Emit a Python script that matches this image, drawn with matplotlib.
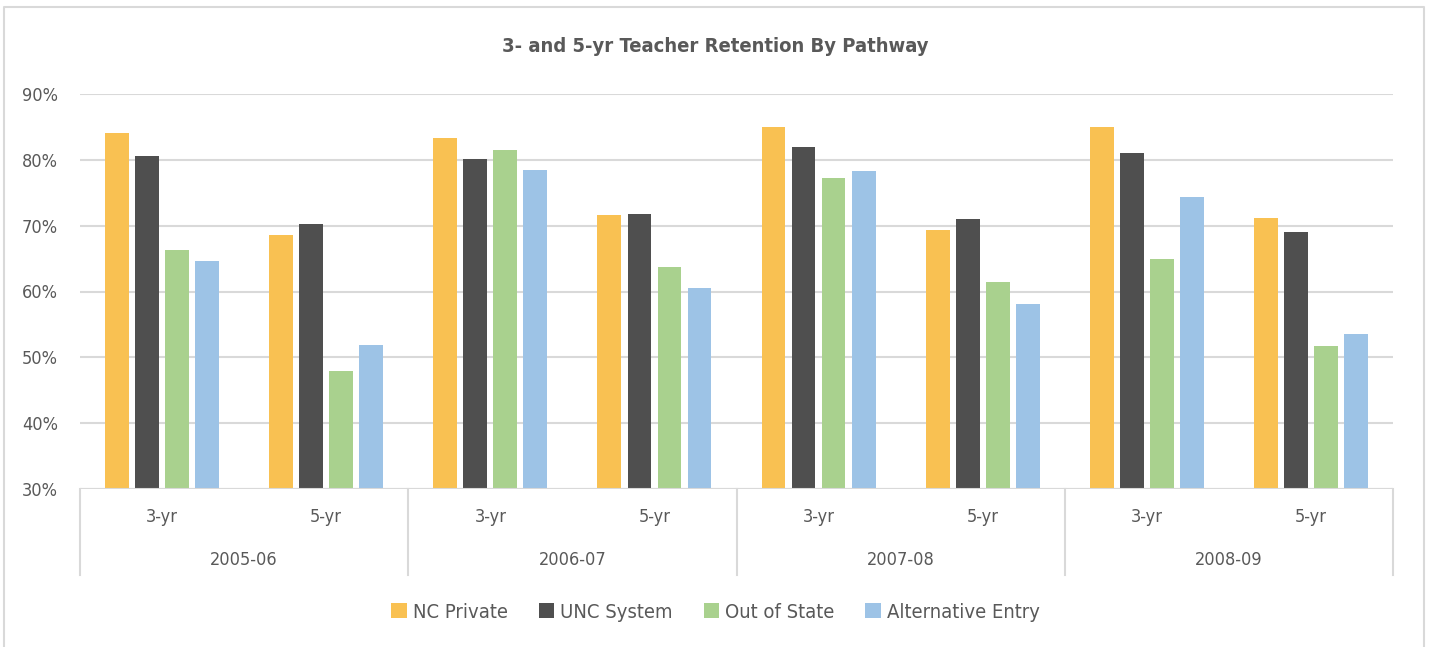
import matplotlib
matplotlib.use("Agg")
import matplotlib.pyplot as plt
import numpy as np
from matplotlib.lines import Line2D

plt.rcParams['font.family'] = ['DejaVu Sans']
plt.rcParams['font.stretch'] = 'condensed'

years = ["2005-06", "2006-07", "2007-08", "2008-09"]
periods = ["3-yr", "5-yr"]
series_names = ["NC Private", "UNC System", "Out of State", "Alternative Entry"]
nc_private = [84.1, 68.6, 83.3, 71.6, 85.0, 69.4, 85.0, 71.1]
unc_system = [80.6, 70.2, 80.1, 71.8, 82.0, 71.0, 81.0, 69.0]
out_of_state = [66.3, 48.0, 81.5, 63.7, 77.3, 61.5, 65.0, 51.7]
alt_entry = [64.7, 51.9, 78.4, 60.5, 78.3, 58.1, 74.4, 53.6]
colors = ["#F9C152", "#4F4F4F", "#A9D18E", "#9DC3E6"]
yticks = [30, 40, 50, 60, 70, 80, 90]

W, H = 1431, 647
fig = plt.figure(figsize=(W / 100, H / 100), dpi=100)
ax = fig.add_axes([80 / W, 1 - 489 / H, (1393 - 80) / W, (489 - 94) / H])

x = np.arange(len(nc_private))
bw = 0.145
pitch = 0.183
all_series = [nc_private, unc_system, out_of_state, alt_entry]
for i, (vals, c, name) in enumerate(zip(all_series, colors, series_names)):
    off = (i - 1.5) * pitch
    ax.bar(x + off, np.array(vals) - 30, bottom=30, width=bw, color=c, label=name, zorder=3)

ax.set_xlim(-0.5, len(x) - 0.5)
ax.set_ylim(30, 90)
ax.set_yticks(yticks)
ax.set_yticklabels([f"{t}%" for t in yticks], fontsize=13, color="#595959")
ax.tick_params(axis='y', length=0, pad=16)
ax.set_xticks([])
ax.grid(axis='y', color="#D9D9D9", linewidth=1.5, zorder=0)
for s in ax.spines.values():
    s.set_visible(False)
ax.axhline(30, color="#D9D9D9", linewidth=1.5, zorder=4)

trans = ax.get_xaxis_transform()
for i in range(len(x)):
    ax.text(x[i], -28 / 395, periods[i % 2], transform=trans, ha='center', va='center',
            fontsize=13, color="#595959")
for g, yr in enumerate(years):
    ax.text(2 * g + 0.5, -71 / 395, yr, transform=trans, ha='center', va='center',
            fontsize=13, color="#595959")
for b in range(len(years) + 1):
    xb = 2 * b - 0.5
    ax.add_line(Line2D([xb, xb], [0, -86 / 395], transform=trans, color="#D9D9D9",
                       linewidth=1.5, clip_on=False))

fig.text(0.5, 1 - 46 / H, "3- and 5-yr Teacher Retention By Pathway", ha='center', va='center',
         fontsize=14.5, fontweight='bold', color="#595959")

leg = fig.legend(loc='center', bbox_to_anchor=(0.5, 1 - 612 / H), ncol=4, frameon=False,
                 fontsize=14.5, handlelength=0.75, handleheight=0.75, handletextpad=0.3,
                 columnspacing=1.55)
for t in leg.get_texts():
    t.set_color("#595959")

# outer chart border (top, left, right; open at the bottom edge)
bx = [4 / W, 4 / W, 1424 / W, 1424 / W]
by = [0, 1 - 7 / H, 1 - 7 / H, 0]
fig.add_artist(Line2D(bx, by, transform=fig.transFigure, color="#D9D9D9", linewidth=1.5))

fig.savefig("out.png", dpi=100)
